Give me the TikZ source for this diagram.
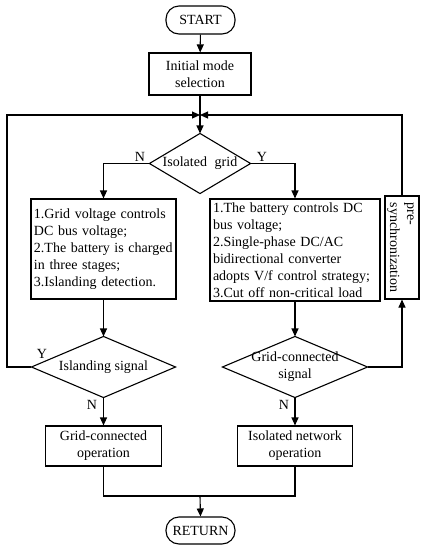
\documentclass[tikz,border=0pt]{standalone}
\usepackage{fontspec}
\setmainfont{Liberation Serif}
\usepackage{graphicx}
\usetikzlibrary{arrows.meta}
\begin{document}
\begin{tikzpicture}[x=1pt,y=-1pt,line width=1.1pt,
  font=\fontsize{14}{17}\selectfont,
  arr/.style={-{Triangle[length=8pt,width=7pt]}},
  box/.style={draw,inner sep=0pt,align=center},
  txtbox/.style={draw,inner xsep=3pt,inner ysep=0pt,align=left},
  term/.style={draw,rounded corners=13pt,inner sep=0pt},
  dia/.style={inner sep=0pt,align=center},
  lab/.style={inner sep=0pt}]
\useasboundingbox (0,0) rectangle (425,550);
\node[term,minimum width=69pt,minimum height=28pt] (start) at (200.5,20) {START};
\node[box,minimum width=102pt,minimum height=42pt] (init) at (200,74) {Initial mode\\selection};
\node[dia,minimum width=100pt,minimum height=59pt] (iso) at (200,163.5) {Isolated\hspace{0.3em} grid};
\draw (iso.north) -- (iso.east) -- (iso.south) -- (iso.west) -- cycle;
\node[txtbox,text width=139pt,minimum height=100pt] (lbox) at (103.5,249) {1.Grid voltage controls\\DC bus voltage;\\2.The battery is charged\\in three stages;\\3.Islanding detection.\\[14pt]};
\node[txtbox,text width=164pt,minimum height=102pt] (rbox) at (295,250) {1.The battery controls DC\\bus voltage;\\2.Single-phase DC/AC\\bidirectional converter\\adopts V/f control strategy;\\3.Cut off non-critical load};
\node[box,minimum width=31pt,minimum height=103pt] (pre) at (402,247.5) {\rotatebox{-90}{\begin{tabular}{@{}l@{}}pre-\\synchronization\end{tabular}}};
\node[dia,minimum width=143pt,minimum height=60pt] (isl) at (103.5,367) {Islanding signal};
\draw (isl.north) -- (isl.east) -- (isl.south) -- (isl.west) -- cycle;
\node[dia,minimum width=144pt,minimum height=60pt] (gcs) at (295,367) {Grid-connected\\signal};
\draw (gcs.north) -- (gcs.east) -- (gcs.south) -- (gcs.west) -- cycle;
\node[box,minimum width=116pt,minimum height=40pt] (gco) at (103.5,446) {Grid-connected\\operation};
\node[box,minimum width=115pt,minimum height=40pt] (ino) at (295,446) {Isolated network\\operation};
\node[term,minimum width=69pt,minimum height=27pt] (ret) at (200.5,530.5) {RETURN};
\coordinate (j) at (200,115);
\coordinate (lc) at (7,115);
\coordinate (m) at (200,496);
\draw[arr] (start) -- (init);
\draw[arr] (init) -- (iso.north);
\draw[arr] (iso.west) -| (lbox.north);
\draw[arr] (iso.east) -| (rbox.north);
\draw[arr] (lbox.south) -- (isl.north);
\draw[arr] (rbox.south) -- (gcs.north);
\draw[arr] (isl.west) -| (lc) -- (j);
\draw[arr] (pre.north) |- (j);
\draw[arr] (gcs.east) -| (pre.south);
\draw[arr] (isl.south) -- (gco.north);
\draw[arr] (gcs.south) -- (ino.north);
\draw (gco.south) |- (m);
\draw (ino.south) |- (m);
\draw[arr] (m) -- (ret.north);
\node[lab] at (140,157) {N};
\node[lab] at (262,157) {Y};
\node[lab] at (42,354) {Y};
\node[lab] at (92,405) {N};
\node[lab] at (284,405) {N};
\end{tikzpicture}
\end{document}
